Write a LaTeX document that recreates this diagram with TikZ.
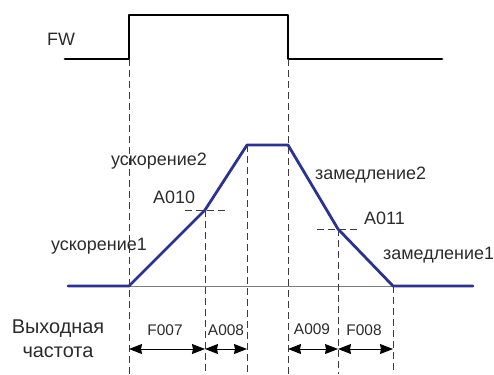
\documentclass[tikz,border=0pt]{standalone}
\usepackage{fontspec}
\setmainfont{Liberation Sans}
\usetikzlibrary{arrows.meta}
\definecolor{RampBlue}{RGB}{42,50,150}
\definecolor{GuideGray}{RGB}{60,60,60}
\definecolor{AxisGray}{RGB}{125,125,125}
\definecolor{Charcoal}{HTML}{2B2B2B}

\begin{document}
\begin{tikzpicture}[x=1bp, y=-1bp,
    signal/.style={line width=2.8bp, line join=round, line cap=round},
    guide/.style={dash pattern=on 7bp off 4bp, line width=0.8bp, color=GuideGray},
    span/.style={{Stealth[length=13bp,width=10bp,inset=1bp]}-{Stealth[length=13bp,width=10bp,inset=1bp]}, line width=0.9bp, color=black},
    lbl/.style={font=\fontsize{18}{20}\selectfont, anchor=base west, inner sep=0pt, text=Charcoal},
    small/.style={font=\fontsize{15.5}{18}\selectfont, anchor=base, inner sep=0pt, text=Charcoal}]
    \useasboundingbox (0,0) rectangle (494,374);

    % FW command
    \coordinate (fwA) at (65,59);
    \coordinate (fwB) at (129,59);
    \coordinate (fwC) at (129,15);
    \coordinate (fwD) at (288,15);
    \coordinate (fwE) at (288,59);
    \coordinate (fwF) at (442,59);
    \draw[signal, color=black] (fwA) -- (fwB) -- (fwC) -- (fwD) -- (fwE) -- (fwF);
    \node[lbl] (fw) at (47,45) {FW};

    % output frequency
    \coordinate (f0) at (68,286);
    \coordinate (f1) at (129,286);
    \coordinate (f2) at (205,210);
    \coordinate (f3) at (247,145);
    \coordinate (f4) at (288,145);
    \coordinate (f5) at (338,229);
    \coordinate (f6) at (393,286);
    \coordinate (f7) at (473,286);
    \draw[line width=0.8bp, color=AxisGray] (f1) -- (f6);
    \draw[signal, color=RampBlue] (f0) -- (f1) -- (f2) -- (f3) -- (f4) -- (f5) -- (f6) -- (f7);

    % guide lines
    \coordinate (b1) at (129,374);
    \coordinate (b2) at (205,374);
    \coordinate (b3) at (247,374);
    \coordinate (b4) at (288,374);
    \coordinate (b5) at (338,374);
    \coordinate (b6) at (393,374);
    \draw[guide] (fwB) -- (b1);
    \draw[guide] (fwE) -- (b4);
    \draw[guide] (f2) -- (b2);
    \draw[guide] (f3) -- (b3);
    \draw[guide] (f5) -- (b5);
    \draw[guide] (f6) -- (b6);
    \coordinate (h1) at (185,210);
    \coordinate (h2) at (228,210);
    \coordinate (h3) at (317,229);
    \coordinate (h4) at (360,229);
    \draw[guide] (h1) -- (h2);
    \draw[guide] (h3) -- (h4);

    % labels
    \node[lbl] (acc2) at (111,165) {ускорение2};
    \node[lbl] (a010) at (153,203) {A010};
    \node[lbl] (acc1) at (51,250) {ускорение1};
    \node[lbl] (dec2) at (315,179) {замедление2};
    \node[lbl] (a011) at (364,224) {A011};
    \node[lbl] (dec1) at (383,259) {замедление1};
    \node[font=\fontsize{20}{24}\selectfont, align=center, anchor=base, inner sep=0pt, text=Charcoal] (out) at (58,357) {Выходная\\частота};

    % times
    \coordinate (t1) at (129,349);
    \coordinate (t2) at (205,349);
    \coordinate (t3) at (247,349);
    \coordinate (t4) at (288,349);
    \coordinate (t5) at (338,349);
    \coordinate (t6) at (393,349);
    \draw[span] (t1) -- (t2);
    \draw[span] (t2) -- (t3);
    \draw[span] (t4) -- (t5);
    \draw[span] (t5) -- (t6);
    \node[small] (f007) at (165,335) {F007};
    \node[small] (a008) at (226,335) {A008};
    \node[small] (a009) at (312,334) {A009};
    \node[small] (f008) at (364,335) {F008};
\end{tikzpicture}
\end{document}
